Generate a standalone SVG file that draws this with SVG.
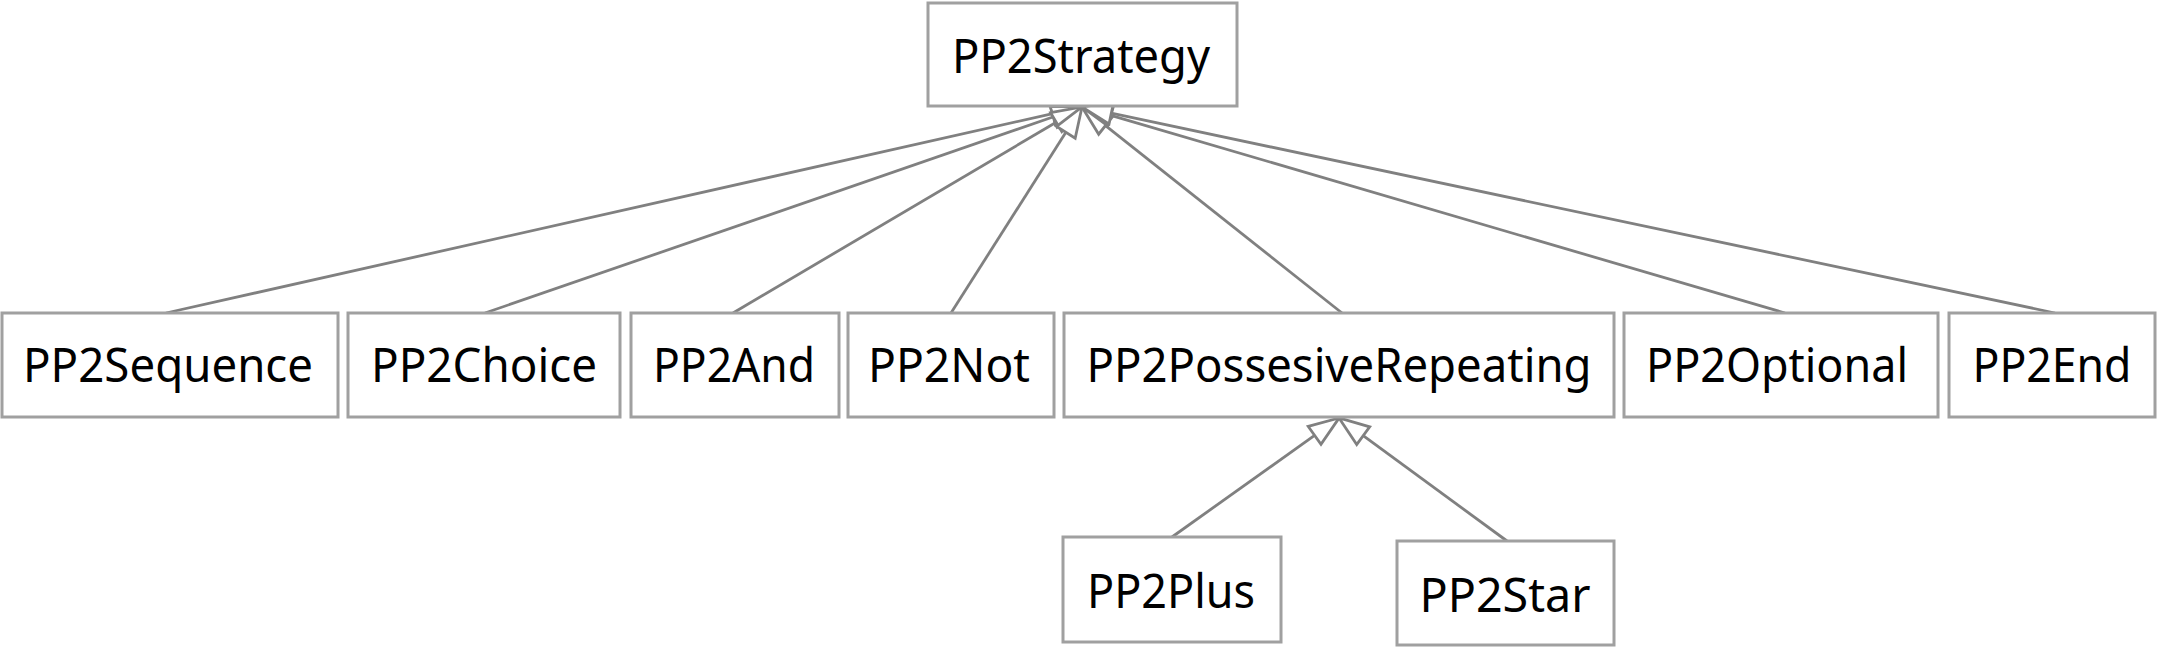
<svg xmlns="http://www.w3.org/2000/svg" width="2158" height="647" viewBox="0 0 2158 647">
<style>
.box{fill:#ffffff;stroke:#a0a0a0;stroke-width:3}
.lbl{font-family:"Noto Sans","Open Sans",sans-serif;font-size:47px;fill:#000000;text-anchor:middle}
.edge{stroke:#808080;stroke-width:2.8;fill:none;marker-end:url(#tri)}
</style>
<defs>
<marker id="tri" markerUnits="userSpaceOnUse" markerWidth="34" markerHeight="26" refX="0" refY="12" orient="auto" overflow="visible">
<path d="M0,1 L30,12 L0,23 Z" fill="#ffffff" stroke="#808080" stroke-width="2.8" stroke-linejoin="miter"/>
</marker>
</defs>
<rect width="2158" height="647" fill="#ffffff"/>
<g id="connectors">
<line class="edge" x1="166" y1="313" x2="1052.7" y2="113.6"/>
<line class="edge" x1="485" y1="313" x2="1053.6" y2="116.8"/>
<line class="edge" x1="733" y1="313" x2="1056.2" y2="122.2"/>
<line class="edge" x1="951" y1="313" x2="1065.9" y2="132.3"/>
<line class="edge" x1="1342" y1="313" x2="1105.5" y2="125.6"/>
<line class="edge" x1="1785" y1="313" x2="1110.8" y2="115.4"/>
<line class="edge" x1="2055" y1="313" x2="1111.3" y2="113.2"/>
<line class="edge" x1="1172" y1="537" x2="1314.6" y2="435.4"/>
<line class="edge" x1="1507" y1="541" x2="1363.2" y2="435.7"/>
</g>
<g id="PP2Strategy"><rect class="box" x="928" y="3" width="309" height="103"/><text class="lbl" x="1081" y="73" textLength="258" lengthAdjust="spacingAndGlyphs">PP2Strategy</text></g>
<g id="PP2Sequence"><rect class="box" x="2" y="313" width="336" height="104"/><text class="lbl" x="168" y="382" textLength="290" lengthAdjust="spacingAndGlyphs">PP2Sequence</text></g>
<g id="PP2Choice"><rect class="box" x="348" y="313" width="272" height="104"/><text class="lbl" x="484" y="382" textLength="226" lengthAdjust="spacingAndGlyphs">PP2Choice</text></g>
<g id="PP2And"><rect class="box" x="631" y="313" width="208" height="104"/><text class="lbl" x="734" y="382" textLength="162" lengthAdjust="spacingAndGlyphs">PP2And</text></g>
<g id="PP2Not"><rect class="box" x="848" y="313" width="206" height="104"/><text class="lbl" x="949" y="382" textLength="162" lengthAdjust="spacingAndGlyphs">PP2Not</text></g>
<g id="PP2PossesiveRepeating"><rect class="box" x="1064" y="313" width="550" height="104"/><text class="lbl" x="1339" y="382" textLength="505" lengthAdjust="spacingAndGlyphs">PP2PossesiveRepeating</text></g>
<g id="PP2Optional"><rect class="box" x="1624" y="313" width="314" height="104"/><text class="lbl" x="1777" y="382" textLength="262" lengthAdjust="spacingAndGlyphs">PP2Optional</text></g>
<g id="PP2End"><rect class="box" x="1949" y="313" width="206" height="104"/><text class="lbl" x="2052" y="382" textLength="159" lengthAdjust="spacingAndGlyphs">PP2End</text></g>
<g id="PP2Plus"><rect class="box" x="1063" y="537" width="218" height="105"/><text class="lbl" x="1171" y="608" textLength="168" lengthAdjust="spacingAndGlyphs">PP2Plus</text></g>
<g id="PP2Star"><rect class="box" x="1397" y="541" width="217" height="104"/><text class="lbl" x="1505" y="612" textLength="171" lengthAdjust="spacingAndGlyphs">PP2Star</text></g>
</svg>
